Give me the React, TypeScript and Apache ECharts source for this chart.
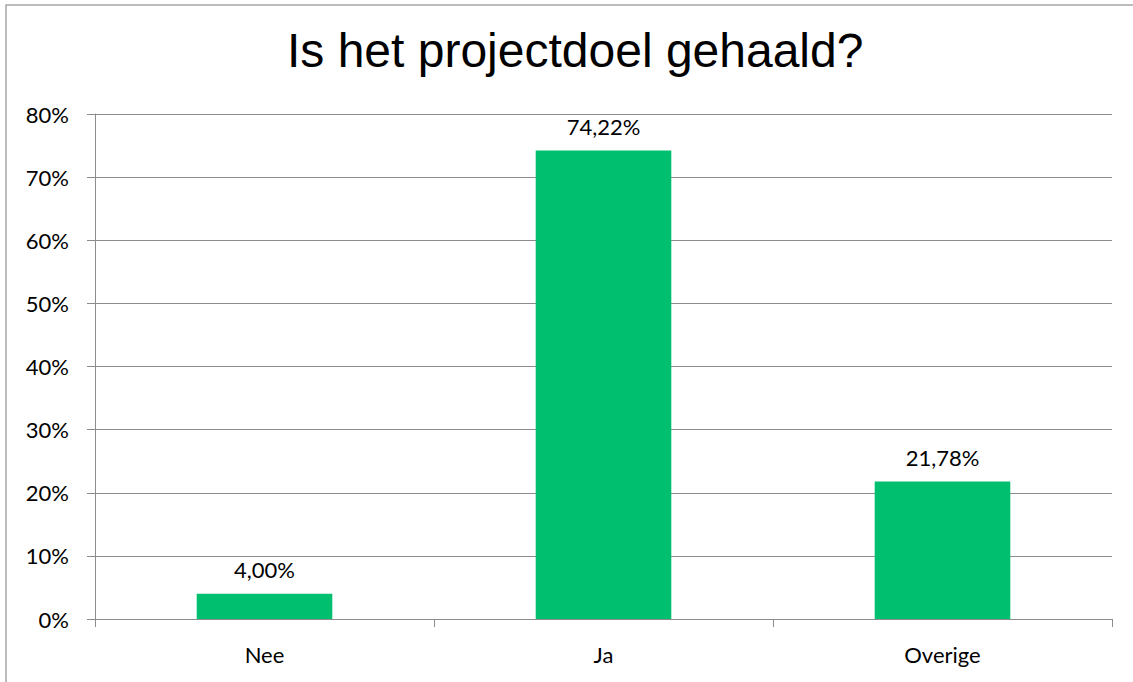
import React, { useEffect, useRef } from "react";
import * as echarts from "echarts";

const categories = ["Nee", "Ja", "Overige"];
const values = [4.0, 74.22, 21.78];
const yTicks = [0, 10, 20, 30, 40, 50, 60, 70, 80];

export default function App() {
  const ref = useRef<HTMLDivElement>(null);
  useEffect(() => {
    document.body.style.margin = "0";
    const chart = echarts.init(ref.current!, null, { renderer: "svg" });
    const labelFont = "Lato, 'Liberation Sans', sans-serif";
    chart.setOption({
      animation: false,
      backgroundColor: "#ffffff",
      title: {
        text: "Is het projectdoel gehaald?",
        left: 287,
        top: 26,
        padding: 0,
        textStyle: {
          fontFamily: "'Liberation Sans', Arial, sans-serif",
          fontSize: 48,
          fontWeight: "normal",
          color: "#000000",
        },
      },
      graphic: [
        {
          type: "rect",
          shape: { x: 6, y: 5, width: 1200, height: 760 },
          style: { fill: "none", stroke: "#a6a6a6", lineWidth: 1.5 },
          silent: true,
        },
      ],
      grid: { left: 95, right: 21, top: 114, bottom: 63 },
      xAxis: {
        type: "category",
        data: categories,
        axisLine: { show: true, lineStyle: { color: "#8c8c8c", width: 1 } },
        axisTick: { show: true, length: 8, lineStyle: { color: "#8c8c8c" } },
        axisLabel: { color: "#000", fontSize: 22, fontFamily: labelFont, margin: 24 },
      },
      yAxis: {
        type: "value",
        min: yTicks[0],
        max: yTicks[yTicks.length - 1],
        interval: 10,
        axisLine: { show: true, lineStyle: { color: "#8c8c8c", width: 1 } },
        axisTick: { show: true, length: 8, lineStyle: { color: "#8c8c8c" } },
        axisLabel: {
          color: "#000",
          fontSize: 22,
          fontFamily: labelFont,
          margin: 26,
          formatter: (v: number) => v + "%",
        },
        splitLine: { show: true, lineStyle: { color: "#8c8c8c", width: 1 } },
      },
      series: [
        {
          type: "bar",
          data: values,
          barWidth: "40%",
          itemStyle: { color: "#00bf6f" },
          label: {
            show: true,
            position: "top",
            distance: 13,
            color: "#000",
            fontSize: 22,
            fontFamily: labelFont,
            formatter: (p: any) => p.value.toFixed(2).replace(".", ",") + "%",
          },
        },
      ],
    });
    return () => chart.dispose();
  }, []);
  return <div ref={ref} style={{ width: 1133, height: 682, position: "absolute", left: 0, top: 0 }} />;
}
